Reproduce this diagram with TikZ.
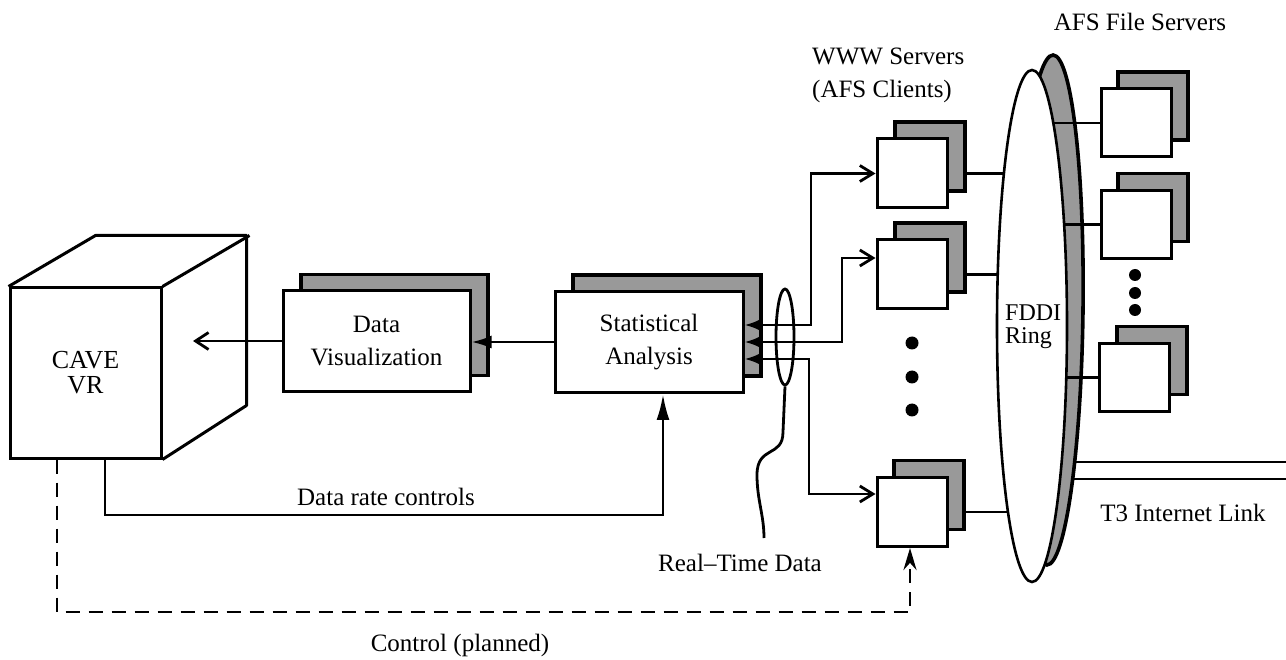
\documentclass[tikz,border=0pt]{standalone}
\usepackage{fontspec}
\setmainfont{Liberation Serif}
\usetikzlibrary{arrows.meta,shapes.geometric}
\pgfdeclarelayer{back}
\pgfdeclarelayer{bg}
\pgfdeclarelayer{mid}
\pgfsetlayers{back,bg,mid,main}
\definecolor{shadegray}{gray}{0.6}
\begin{document}
\begin{tikzpicture}[x=1pt,y=-1pt,
  lbl/.style={font=\fontsize{25}{32}\selectfont, inner sep=0pt},
  bigbox/.style={draw, line width=3pt, fill=white, minimum width=187pt, minimum height=101pt, inner sep=0pt, align=center, font=\fontsize{25}{32.5}\selectfont},
  bigshadow/.style={draw, line width=3.5pt, fill=shadegray, minimum width=187pt, minimum height=101pt, inner sep=0pt},
  srv/.style={draw, line width=3pt, fill=white, minimum width=70pt, minimum height=69pt, inner sep=0pt},
  srvshadow/.style={draw, line width=3.5pt, fill=shadegray, minimum width=70pt, minimum height=69pt, inner sep=0pt},
  wire/.style={line width=2.8pt},
  dot/.style={circle, fill=black, minimum size=13pt, inner sep=0pt},
  smalldot/.style={circle, fill=black, minimum size=12pt, inner sep=0pt}]
\useasboundingbox (0,0) rectangle (1286,660);

% ---------- CAVE ----------
\node[draw, line width=3pt, minimum width=151pt, minimum height=170pt, inner sep=0pt,
      align=center, font=\fontsize{26}{25}\selectfont] (cave) at (85.5,373) {CAVE\\VR};
\draw[line width=3pt, line join=round] (cave.north west) -- ++(87,-51) -- ++(151,0) -- ++(0,170) -- (cave.south east)
      (cave.north east) -- ++(87,-51);

% ---------- Data Visualization / Statistical Analysis ----------
\node[bigshadow] (dvs) at (394.5,325) {};
\node[bigbox] (dv) at (376.5,341) {Data\\Visualization};
\node[bigshadow, minimum width=188pt] (sas) at (667,325.5) {};
\node[bigbox, minimum width=188pt] (sa) at (649,342) {Statistical\\Analysis};

\coordinate (caveIn) at (193,340);
\draw[wire, -{Straight Barb[length=13pt,width=17pt,line width=2.8pt]}] (dv.west) -- (dv.west -| caveIn);
\draw[wire, -{Latex[length=20pt,width=13pt]}] (sa.west) -- (sa.west -| dv.east);

% ---------- WWW servers ----------
\node[srvshadow] (w1s) at (930,156.5) {};
\node[srv] (w1) at (912,173.5) {};
\node[srvshadow] (w2s) at (930,257.5) {};
\node[srv] (w2) at (912,274.5) {};
\node[srvshadow] (w3s) at (929,495) {};
\node[srv] (w3) at (912,512) {};
\node[dot] (wd1) at (912,343) {};
\node[dot] (wd2) at (912,377) {};
\node[dot] (wd3) at (912,410) {};

\node[lbl, align=left, anchor=west, font=\fontsize{25}{33}\selectfont] (wwwlbl) at (812,75) {WWW Servers\\(AFS Clients)};

% bundle of real-time data lines
\coordinate (b1) at (811,325);
\coordinate (b2) at (842,342);
\coordinate (b2t) at (842,258);
\coordinate (b3) at (809,359);
\coordinate (b3t) at (809,494);
\tikzset{bundlearrow/.style={wire, {Latex[length=16pt,width=12pt]}-{Straight Barb[length=13pt,width=16pt,line width=2.8pt]}}}
\draw[bundlearrow] (b1 -| sa.east) -- (b1) -- (b1 |- w1.west) -- (w1.west);
\draw[bundlearrow] (b2 -| sa.east) -- (b2) -- (b2t) -- (b2t -| w2.west);
\draw[bundlearrow] (b3 -| sa.east) -- (b3) -- (b3t) -- (b3t -| w3.west);

\node[draw, ellipse, line width=2.8pt, minimum width=18pt, minimum height=96pt, inner sep=0pt] (bundle) at (785,337) {};
\node[lbl] (rtd) at (740,563) {Real–Time Data};
\coordinate (rtdEnd) at (764,538);
\draw[wire] (bundle.south) -- (783,432) .. controls (783,458) and (757,445) .. (757,475)
      .. controls (757,500) and (764,515) .. (rtdEnd);

% ---------- Data rate controls ----------
\coordinate (drc) at (105,515);
\coordinate (drc2) at (663,515);
\draw[wire, -{Latex[length=26pt,width=13pt]}] (cave.south -| drc) -- (drc) -- (drc2) -- (drc2 |- sa.south);
\node[lbl] (drclbl) at (386,497) {Data rate controls};

% ---------- Control (planned) ----------
\coordinate (ctl1) at (57,612);
\coordinate (ctl2) at (910,612);
\draw[wire, dash pattern=on 14pt off 9pt, -{Stealth[length=22pt,width=13pt]}] (cave.south -| ctl1) -- (ctl1) -- (ctl2) -- (ctl2 |- w3.south);
\node[lbl] (ctllbl) at (460,645) {Control (planned)};

% ---------- FDDI ring ----------
\begin{pgfonlayer}{bg}
\node[draw, ellipse, line width=3.6pt, fill=shadegray, minimum width=66pt, minimum height=510pt, inner sep=0pt, rotate=-0.7] (ringout) at (1050,310) {};
\end{pgfonlayer}
\node[draw, ellipse, line width=2.6pt, fill=white, minimum width=70pt, minimum height=512pt, inner sep=0pt] (ring) at (1032,326) {};
\node[lbl, align=left, anchor=west, font=\fontsize{24}{23}\selectfont] (fddi) at (1005,327) {FDDI\\Ring};

% ---------- AFS file servers ----------
\node[srvshadow, minimum height=68pt] (a1s) at (1153,106) {};
\node[srv, minimum height=68pt] (a1) at (1136,123) {};
\node[srvshadow, minimum height=68pt] (a2s) at (1153,207.5) {};
\node[srv, minimum height=68pt] (a2) at (1136,224.5) {};
\node[srvshadow, minimum height=68pt] (a3s) at (1152,360.5) {};
\node[srv, minimum height=68pt] (a3) at (1134.5,377.5) {};
\node[smalldot] (ad1) at (1135,275) {};
\node[smalldot] (ad2) at (1135,293) {};
\node[smalldot] (ad3) at (1135,310) {};
\node[lbl] (afslbl) at (1140,22) {AFS File Servers};

% ring connections
\begin{pgfonlayer}{mid}
\draw[wire] (w1.east -| w1s.east) -- (w1.east -| ring.center);
\draw[wire] (w2.east -| w2s.east) -- (w2.east -| ring.center);
\draw[wire] (w3.east -| w3s.east) -- (w3.east -| ring.center);
\draw[wire] (a1.west) -- (a1.west -| ring.center);
\draw[wire] (a2.west) -- (a2.west -| ring.center);
\draw[wire] (a3.west) -- (a3.west -| ring.center);
\end{pgfonlayer}

% ---------- T3 link ----------
\coordinate (t3a) at (1286,462);
\coordinate (t3b) at (1286,479);
\begin{pgfonlayer}{back}
\draw[wire] (t3a -| ringout.center) -- (t3a);
\draw[wire] (t3b -| ringout.center) -- (t3b);
\end{pgfonlayer}
\node[lbl] (t3lbl) at (1183,513) {T3 Internet Link};
\end{tikzpicture}
\end{document}
